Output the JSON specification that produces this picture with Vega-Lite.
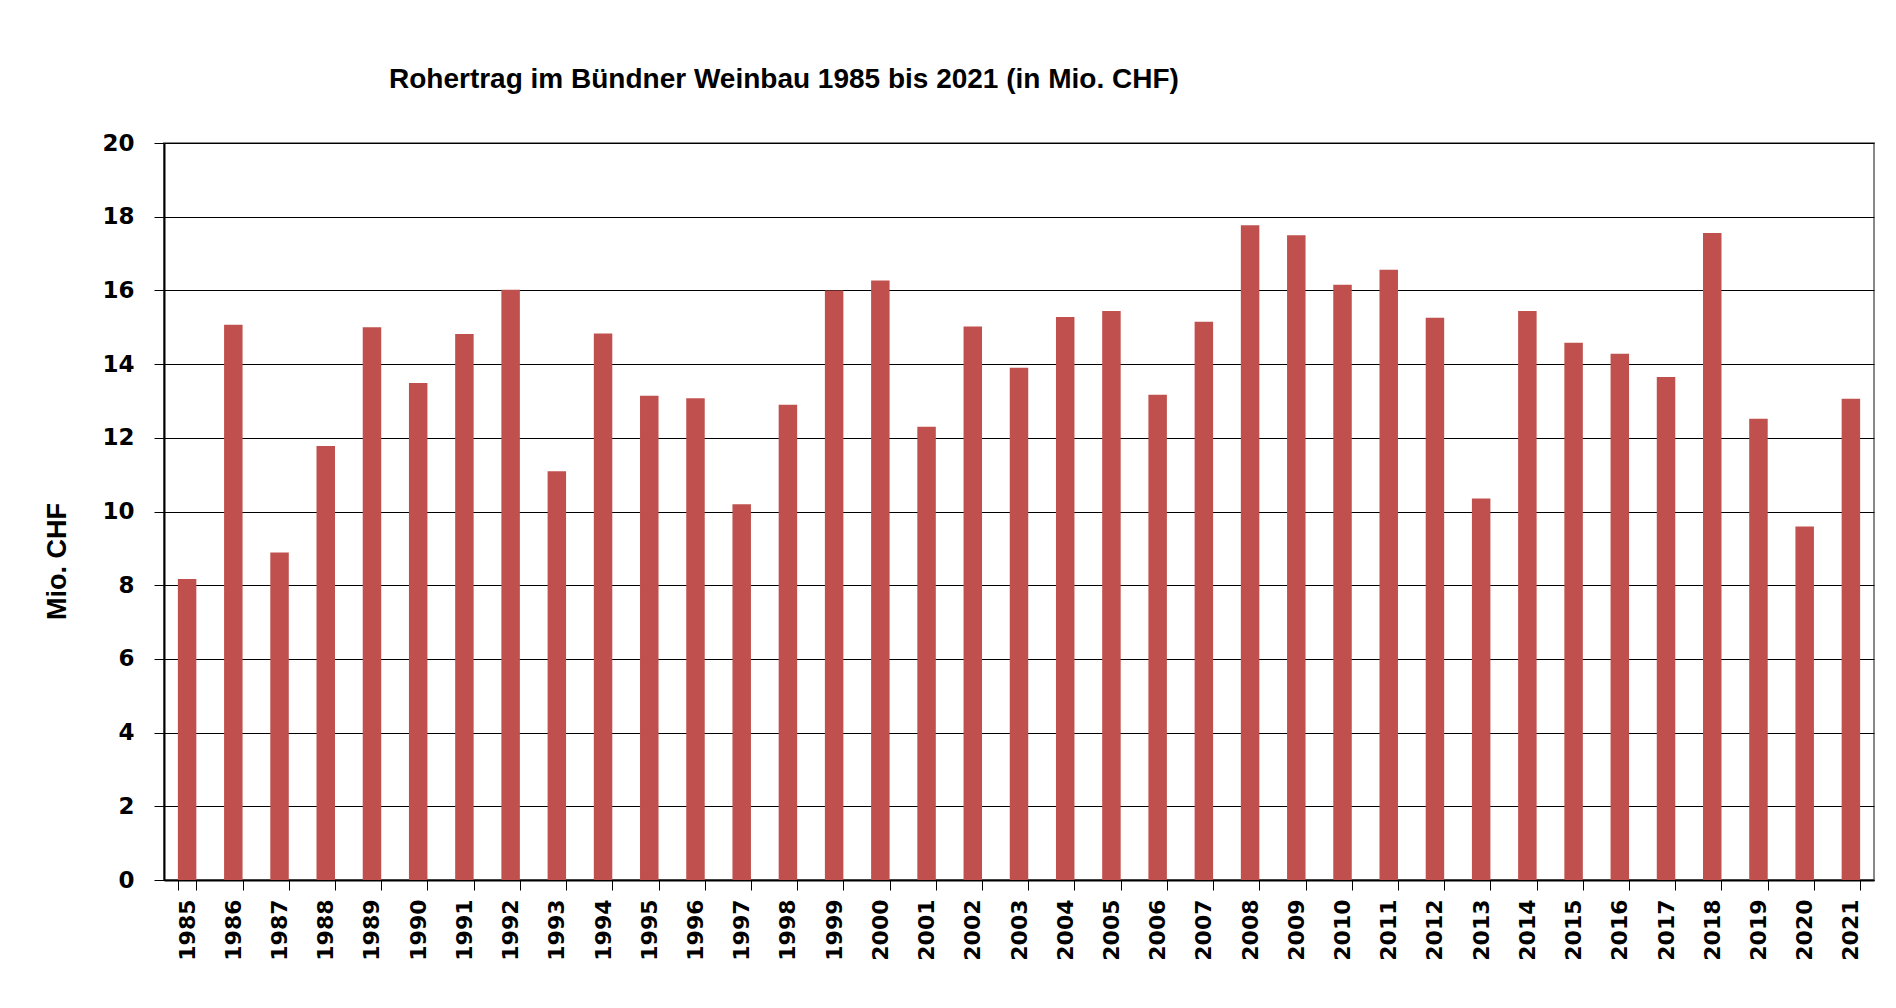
{
  "$schema": "https://vega.github.io/schema/vega-lite/v6.json",
  "width": 1710,
  "height": 737,
  "autosize": {"type": "none"},
  "padding": {"left": 164, "top": 143, "right": 22, "bottom": 128},
  "background": "white",
  "title": {
    "text": "Rohertrag im Bündner Weinbau 1985 bis 2021 (in Mio. CHF)",
    "anchor": "start",
    "frame": "group",
    "dx": 225,
    "offset": 16,
    "baseline": "alphabetic",
    "font": "Liberation Sans",
    "fontSize": 28,
    "fontWeight": "bold",
    "color": "#000000"
  },
  "data": {
    "values": [
      {"Jahr": "1985", "Wert": 8.17},
      {"Jahr": "1986", "Wert": 15.07},
      {"Jahr": "1987", "Wert": 8.89},
      {"Jahr": "1988", "Wert": 11.78},
      {"Jahr": "1989", "Wert": 15.0},
      {"Jahr": "1990", "Wert": 13.49},
      {"Jahr": "1991", "Wert": 14.82},
      {"Jahr": "1992", "Wert": 16.02},
      {"Jahr": "1993", "Wert": 11.09},
      {"Jahr": "1994", "Wert": 14.83},
      {"Jahr": "1995", "Wert": 13.14},
      {"Jahr": "1996", "Wert": 13.07},
      {"Jahr": "1997", "Wert": 10.2},
      {"Jahr": "1998", "Wert": 12.9},
      {"Jahr": "1999", "Wert": 16.0},
      {"Jahr": "2000", "Wert": 16.27},
      {"Jahr": "2001", "Wert": 12.3},
      {"Jahr": "2002", "Wert": 15.02},
      {"Jahr": "2003", "Wert": 13.9},
      {"Jahr": "2004", "Wert": 15.28},
      {"Jahr": "2005", "Wert": 15.44},
      {"Jahr": "2006", "Wert": 13.17},
      {"Jahr": "2007", "Wert": 15.15},
      {"Jahr": "2008", "Wert": 17.77},
      {"Jahr": "2009", "Wert": 17.5},
      {"Jahr": "2010", "Wert": 16.15},
      {"Jahr": "2011", "Wert": 16.56},
      {"Jahr": "2012", "Wert": 15.26},
      {"Jahr": "2013", "Wert": 10.35},
      {"Jahr": "2014", "Wert": 15.44},
      {"Jahr": "2015", "Wert": 14.58},
      {"Jahr": "2016", "Wert": 14.28},
      {"Jahr": "2017", "Wert": 13.65},
      {"Jahr": "2018", "Wert": 17.56},
      {"Jahr": "2019", "Wert": 12.52},
      {"Jahr": "2020", "Wert": 9.59},
      {"Jahr": "2021", "Wert": 13.06}
    ]
  },
  "mark": {"type": "bar", "color": "#C0504D"},
  "encoding": {
    "x": {
      "field": "Jahr",
      "type": "nominal",
      "sort": null,
      "scale": {"paddingInner": 0.6, "paddingOuter": 0.3},
      "axis": {
        "title": null,
        "labelAngle": 270,
        "labelAlign": "right",
        "labelBaseline": "middle",
        "labelFont": "DejaVu Sans",
        "labelFontWeight": "bold",
        "labelFontSize": 22,
        "labelColor": "#000000",
        "labelPadding": 9,
        "tickBand": "extent",
        "tickSize": 10,
        "tickColor": "#000000",
        "tickWidth": 1,
        "domainColor": "#000000",
        "domainWidth": 2,
        "grid": false
      }
    },
    "y": {
      "field": "Wert",
      "type": "quantitative",
      "scale": {"domain": [0, 20], "nice": false},
      "axis": {
        "title": "Mio. CHF",
        "titleFont": "Liberation Sans",
        "titleFontSize": 27,
        "titleFontWeight": "bold",
        "titleColor": "#000000",
        "titleAngle": 270,
        "titleAlign": "center",
        "titleBaseline": "middle",
        "titleX": -107,
        "titleY": 418,
        "values": [0, 2, 4, 6, 8, 10, 12, 14, 16, 18, 20],
        "labelFont": "DejaVu Sans",
        "labelFontWeight": "bold",
        "labelFontSize": 23,
        "labelColor": "#000000",
        "labelPadding": 20,
        "tickSize": 10,
        "tickColor": "#000000",
        "tickWidth": 1,
        "domainColor": "#000000",
        "domainWidth": 2,
        "grid": true,
        "gridColor": "#000000",
        "gridWidth": 1
      }
    }
  },
  "config": {
    "view": {"stroke": "#888888", "strokeWidth": 2}
  }
}
